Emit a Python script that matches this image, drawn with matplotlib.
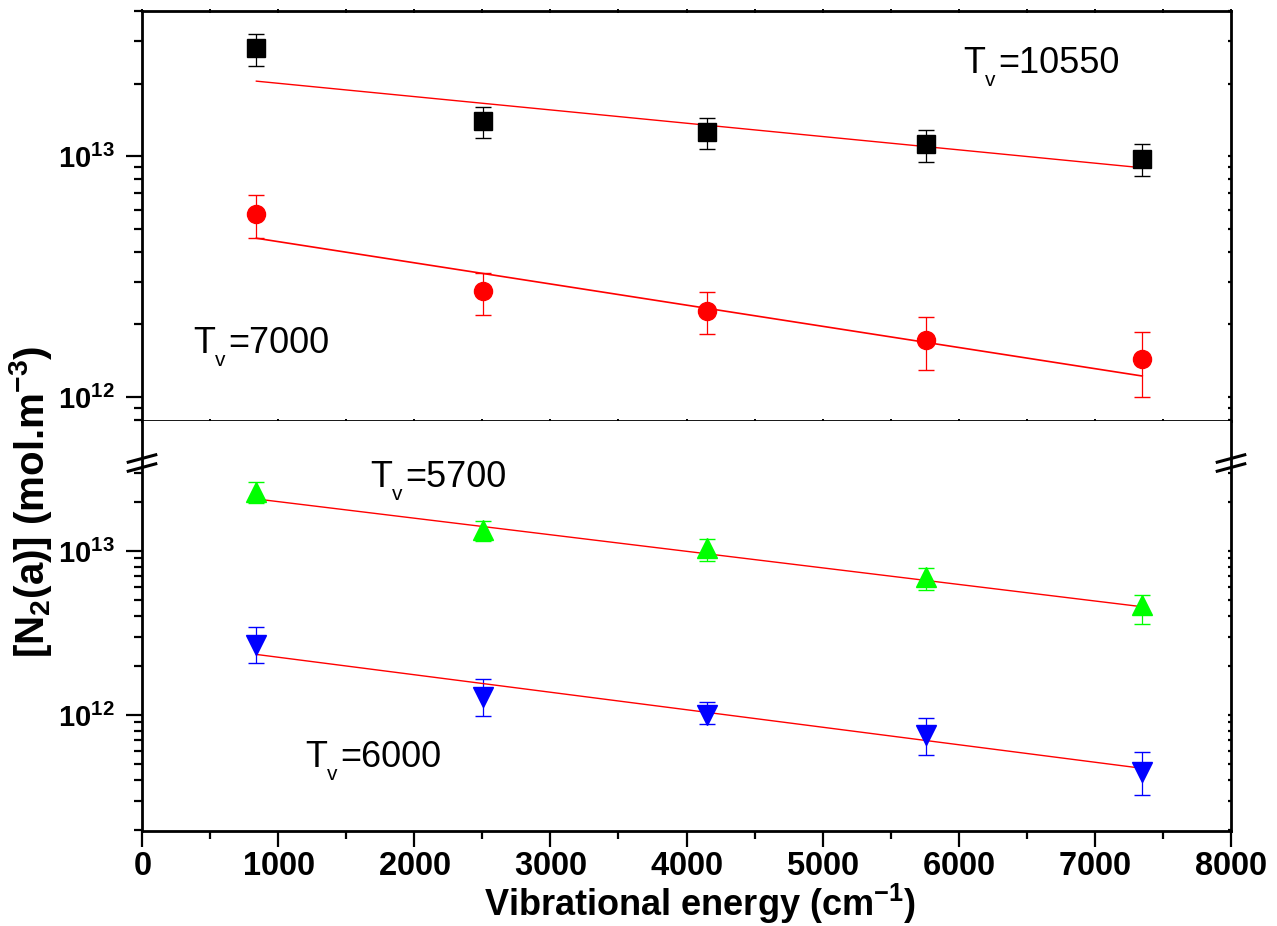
import numpy as np
import matplotlib
matplotlib.use("Agg")
import matplotlib.pyplot as plt
from matplotlib.ticker import LogLocator, FixedLocator, MultipleLocator

plt.rcParams['font.family'] = ['Liberation Sans', 'DejaVu Sans']
plt.rcParams['mathtext.fontset'] = 'custom'
plt.rcParams['mathtext.rm'] = 'Liberation Sans'
plt.rcParams['mathtext.bf'] = 'Liberation Sans:bold'
plt.rcParams['mathtext.it'] = 'Liberation Sans:italic'
plt.rcParams['mathtext.default'] = 'bf'
plt.rcParams['axes.formatter.use_mathtext'] = True

# vibrational energy of the levels (cm-1)
energy = [840, 2505, 4150, 5762, 7348]

# top panel
black_y = [2.81e13, 1.397e13, 1.254e13, 1.118e13, 9.72e12]
black_lo = [2.37e13, 1.184e13, 1.066e13, 9.47e12, 8.28e12]
black_hi = [3.20e13, 1.602e13, 1.442e13, 1.282e13, 1.122e13]
red_y = [5.745e12, 2.754e12, 2.28e12, 1.724e12, 1.432e12]
red_lo = [4.58e12, 2.19e12, 1.824e12, 1.294e12, 1.003e12]
red_hi = [6.89e12, 3.28e12, 2.735e12, 2.148e12, 1.866e12]

# bottom panel
green_y = [2.30e13, 1.343e13, 1.039e13, 6.97e12, 4.69e12]
green_lo = [1.955e13, 1.151e13, 8.69e12, 5.75e12, 3.59e12]
green_hi = [2.65e13, 1.531e13, 1.178e13, 7.84e12, 5.40e12]
blue_y = [2.67e12, 1.29e12, 1.0e12, 7.55e11, 4.51e11]
blue_lo = [2.08e12, 9.86e11, 8.81e11, 5.70e11, 3.25e11]
blue_hi = [3.45e12, 1.65e12, 1.195e12, 9.59e11, 5.97e11]

# fitted lines (end points)
fit_x = [840, 7348]
fit_black = [2.046e13, 8.94e12]
fit_red = [4.56e12, 1.222e12]
fit_green = [2.075e13, 4.57e12]
fit_blue = [2.34e12, 4.73e11]

tv_values = ['10550', '7000', '5700', '6000']


def err(y, lo, hi):
    y = np.array(y)
    return [y - np.array(lo), np.array(hi) - y]


W, H = 1277, 926
fig = plt.figure(figsize=(W / 100, H / 100), dpi=100)
left, right = 142 / W, 1231 / W
ax_top = fig.add_axes([left, 1 - 421 / H, right - left, 410 / H])
ax_bot = fig.add_axes([left, 1 - 831 / H, right - left, 410 / H], sharex=ax_top)

ebkw = dict(linestyle='none', capsize=5.5, elinewidth=0.9, capthick=1.0)
ax_top.errorbar(energy, black_y, yerr=err(black_y, black_lo, black_hi),
                marker='s', ms=12.5, color='black', ecolor='black', **ebkw)
ax_top.errorbar(energy, red_y, yerr=err(red_y, red_lo, red_hi),
                marker='o', ms=13, color='red', ecolor='red', **ebkw)
ax_top.plot(fit_x, fit_black, color='red', lw=1.0)
ax_top.plot(fit_x, fit_red, color='red', lw=1.2)

ax_bot.errorbar(energy, green_y, yerr=err(green_y, green_lo, green_hi),
                marker='^', ms=14, color='#00ff00', ecolor='#00ff00', **ebkw)
ax_bot.errorbar(energy, blue_y, yerr=err(blue_y, blue_lo, blue_hi),
                marker='v', ms=14, color='blue', ecolor='blue', **ebkw)
ax_bot.plot(fit_x, fit_green, color='red', lw=1.0)
ax_bot.plot(fit_x, fit_blue, color='red', lw=1.0)

ax_top.set_xlim(0, 8000)
ax_top.xaxis.set_major_locator(MultipleLocator(1000))
ax_top.xaxis.set_minor_locator(MultipleLocator(500))

for ax in (ax_top, ax_bot):
    ax.set_yscale('log')
    for s in ax.spines.values():
        s.set_linewidth(2.0)

ax_top.set_ylim(7.95e11, 4.0e13)
ax_top.yaxis.set_major_locator(LogLocator(base=10, numticks=10))
ax_top.yaxis.set_minor_locator(LogLocator(base=10, subs=np.arange(2, 10), numticks=20))

ax_bot.set_ylim(1.962e11, 6.2e13)
ax_bot.spines['top'].set_visible(False)
ax_bot.yaxis.set_major_locator(LogLocator(base=10, numticks=10))
minor_bot = [m * 10.0 ** e for e in (11, 12, 13) for m in range(2, 10)
             if 1.962e11 < m * 10.0 ** e < 3.5e13]
ax_bot.yaxis.set_minor_locator(FixedLocator(minor_bot))

for ax in (ax_top, ax_bot):
    ax.tick_params(axis='both', which='major', direction='out', length=11.5,
                   width=1.6)
    ax.tick_params(axis='both', which='minor', direction='out', length=6,
                   width=1.6)
    ax.tick_params(axis='y', which='both', right=True, labelright=False, pad=8)
    ax.tick_params(axis='y', which='major', labelsize=21)

ax_top.tick_params(axis='x', which='both', bottom=True, top=True, labelbottom=False,
                   direction='inout', length=3, width=1.4)
ax_bot.tick_params(axis='x', which='major', labelsize=23.5, pad=3)

# right-hand / top ticks are tiny in the original
for ax in (ax_top, ax_bot):
    for t in ax.yaxis.get_major_ticks() + ax.yaxis.get_minor_ticks():
        t.tick2line.set_markersize(2.5)
        t.tick2line.set_marker(matplotlib.lines.TICKLEFT)
for t in ax_top.xaxis.get_major_ticks() + ax_top.xaxis.get_minor_ticks():
    t.tick2line.set_markersize(2.5)

fig.canvas.draw()
for lab in ax_bot.get_xticklabels() + ax_bot.get_yticklabels() + ax_top.get_yticklabels():
    lab.set_fontweight('bold')

fig.text(700 / W, 1 - 916 / H, 'Vibrational energy (cm$^{-1}$)', ha='center',
         va='baseline', fontsize=26, fontweight='bold')
fig.text(31 / W, 1 - 502 / H, '[N$_2$(a)] (mol.m$^{-3}$)', rotation=90,
         ha='center', va='center', fontsize=29, fontweight='bold')

# axis break marks
yb = (831 - 463) / 410
for xs in (0.0, 1.0):
    for dy in (-0.011, 0.011):
        ax_bot.plot([xs - 0.014, xs + 0.014], [yb + dy - 0.01, yb + dy + 0.01],
                    transform=ax_bot.transAxes, color='black', lw=2.2,
                    clip_on=False, solid_capstyle='butt')

# T_v annotations: "T", lowered small "v", then "=value"
txt_pos = [(963, 73), (193, 353), (370, 487), (305, 767)]
for (px, py), val in zip(txt_pos, tv_values):
    fig.text(px / W, 1 - py / H, 'T', fontsize=26, ha='left', va='baseline')
    fig.text((px + 22) / W, 1 - (py + 13) / H, 'v', fontsize=15, ha='left',
             va='baseline')
    fig.text((px + 35) / W, 1 - py / H, '=' + val, fontsize=26, ha='left',
             va='baseline')

fig.savefig('out.png', dpi=100)
